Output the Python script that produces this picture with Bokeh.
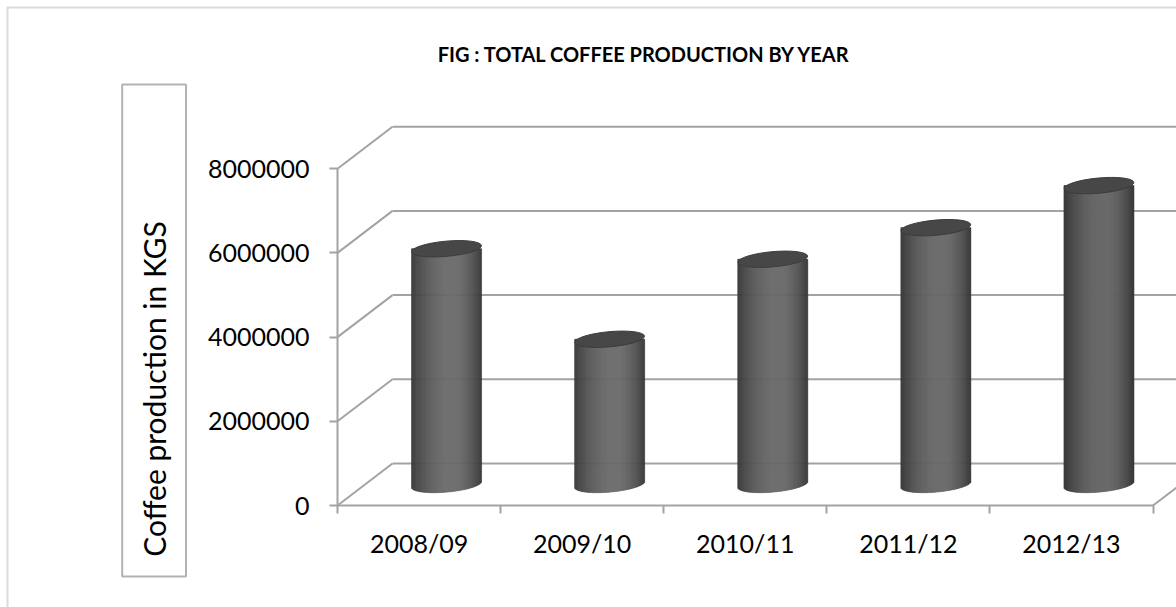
import numpy as np
from bokeh.plotting import figure
from bokeh.models import Range1d, FixedTicker, BoxAnnotation, Label, NumeralTickFormatter
from bokeh.embed import file_html
from bokeh.resources import INLINE

# ---- data -------------------------------------------------------------
YEARS = ["2008/09", "2009/10", "2010/11", "2011/12", "2012/13"]
PRODUCTION = [5600000, 3450000, 5350000, 6100000, 7100000]
Y_TICKS = [0, 2000000, 4000000, 6000000, 8000000]
TITLE = "FIG : TOTAL COFFEE PRODUCTION BY YEAR"
Y_LABEL = "Coffee production in KGS"

# ---- layout (pixels) --------------------------------------------------
W, H = 1176, 607
ORIGIN_X, ORIGIN_Y = 337, 505    # canvas position of the front axes corner
PX_PER_CAT = 163.1              # one category slot on the front axis
PX_PER_VAL = 84.2 / 2e6         # vertical pixels per kg
DEPTH_PX = (55.0, 42.0)         # oblique offset of the back wall

GRID = "#a3a3a3"
FONT = "Lato"


def cx(px):
    return (px - ORIGIN_X) / PX_PER_CAT


def cy(py):
    return (ORIGIN_Y - py) / PX_PER_VAL


DX = DEPTH_PX[0] / PX_PER_CAT
DY = DEPTH_PX[1] / PX_PER_VAL
n_cat = len(YEARS)

p = figure(width=W, height=H, output_backend="svg", toolbar_location=None,
           x_range=Range1d(cx(0), cx(W)), y_range=Range1d(cy(H), cy(0)),
           min_border=0)
p.outline_line_color = None
p.xgrid.visible = False
p.ygrid.visible = False
p.background_fill_color = "white"
p.border_fill_color = "white"

# ---- walls: side-wall diagonals and back-wall gridlines ----------------
ticks = np.array(Y_TICKS, dtype=float)
p.segment(x0=np.zeros_like(ticks), y0=ticks, x1=np.full_like(ticks, DX), y1=ticks + DY,
          line_color=GRID, line_width=2)
p.segment(x0=np.full_like(ticks, DX), y0=ticks + DY, x1=np.full_like(ticks, n_cat + DX),
          y1=ticks + DY, line_color=GRID, line_width=2)
p.segment(x0=[n_cat], y0=[0], x1=[n_cat + DX], y1=[DY], line_color=GRID, line_width=2)

# ---- cylinders ---------------------------------------------------------
A_PX, B_PX, THETA = 35.0, 7.6, 0.09
n_strip = 70
edges = np.linspace(-A_PX, A_PX, n_strip + 1)
u = 0.5 * (edges[:-1] + edges[1:])
s, c = np.sin(THETA), np.cos(THETA)
qa = s * s / A_PX ** 2 + c * c / B_PX ** 2
qb = 2 * u * s * c * (1 / A_PX ** 2 - 1 / B_PX ** 2)
qc = u * u * (c * c / A_PX ** 2 + s * s / B_PX ** 2) - 1
low = (-qb - np.sqrt(np.maximum(qb * qb - 4 * qa * qc, 0))) / (2 * qa)

t = (u + A_PX) / (2 * A_PX)
peak = 0.58
shade = np.where(t <= peak, 1 - ((t - peak) / peak) ** 2, 1 - ((t - peak) / (1 - peak)) ** 2)
grey = (55 + 52 * np.clip(shade, 0, 1)).astype(int)
strip_colors = ["#%02x%02x%02x" % (g, g, g) for g in grey]

centers = np.arange(n_cat) + 0.5 + DX / 2
base = DY / 2
L, R, Bt, Tp, C = [], [], [], [], []
for xc, v in zip(centers, PRODUCTION):
    L.extend(xc + edges[:-1] / PX_PER_CAT)
    R.extend(xc + edges[1:] / PX_PER_CAT)
    Bt.extend(base + low / PX_PER_VAL)
    Tp.extend([v + base] * n_strip)
    C.extend(strip_colors)
p.quad(left=L, right=R, bottom=Bt, top=Tp, fill_color=C, line_color=C, line_width=0.6)

p.ellipse(x=centers, y=np.array(PRODUCTION) + base,
          width=2 * A_PX / PX_PER_CAT, height=2 * B_PX / PX_PER_VAL, angle=THETA,
          fill_color="#474747", line_color="#3c3c3c", line_width=1)

# ---- axes (pinned at the front corner of the floor) --------------------
ya = p.yaxis[0]
ya.fixed_location = 0
ya.ticker = FixedTicker(ticks=Y_TICKS)
ya.formatter = NumeralTickFormatter(format="0")
ya.bounds = (0, Y_TICKS[-1])
ya.axis_line_color = GRID
ya.axis_line_width = 2
ya.major_tick_line_color = GRID
ya.major_tick_line_width = 2
ya.major_tick_out = 8
ya.major_tick_in = 0
ya.minor_tick_line_color = None
ya.major_label_text_font = FONT
ya.major_label_text_font_size = "25px"
ya.major_label_text_color = "black"
ya.major_label_standoff = 20

xa = p.xaxis[0]
xa.fixed_location = 0
mids = [i + 0.5 for i in range(n_cat)]
xa.ticker = FixedTicker(ticks=mids, minor_ticks=list(range(n_cat + 1)))
xa.major_label_overrides = {m: y for m, y in zip(mids, YEARS)}
xa.bounds = (0, n_cat)
xa.axis_line_color = GRID
xa.axis_line_width = 2
xa.major_tick_out = 0
xa.major_tick_in = 0
xa.major_tick_line_color = None
xa.minor_tick_line_color = GRID
xa.minor_tick_line_width = 2
xa.minor_tick_out = 8
xa.minor_tick_in = 0
xa.major_label_text_font = FONT
xa.major_label_text_font_size = "25px"
xa.major_label_text_color = "black"
xa.major_label_standoff = 14

# ---- titles and frames -------------------------------------------------
p.add_layout(Label(x=cx(644), y=cy(53), text=TITLE, text_font=FONT, text_font_style="bold",
                   text_font_size="20px", text_align="center", text_baseline="alphabetic",
                   text_color="black"))
p.add_layout(Label(x=cx(153), y=cy(388.5), text=Y_LABEL, angle=np.pi / 2, text_font=FONT,
                   text_font_size="30px", text_align="center", text_baseline="middle",
                   text_color="black"))
p.add_layout(BoxAnnotation(left=cx(121.7), right=cx(185.5), top=cy(84), bottom=cy(576),
                           fill_color=None, line_color="black", line_width=2))
p.add_layout(BoxAnnotation(left=cx(7), right=cx(1500), top=cy(7), bottom=cy(1000),
                           fill_color=None, line_color="#888888", line_width=2))

open("out.html", "w").write(file_html(p, INLINE, title="Coffee production"))
